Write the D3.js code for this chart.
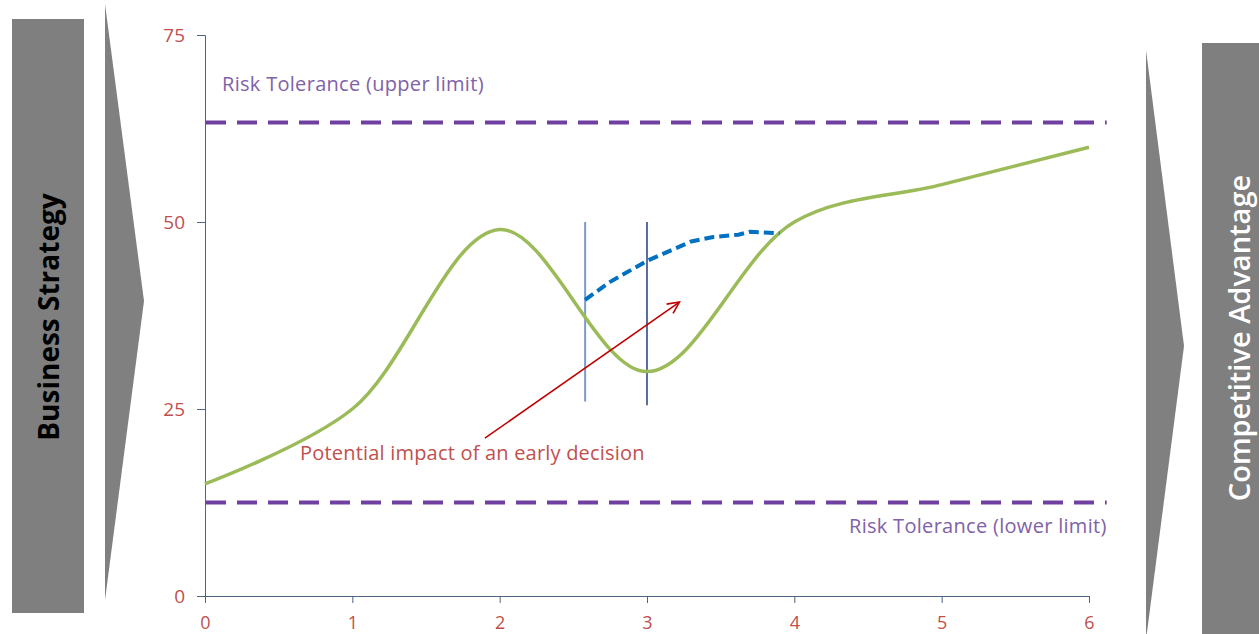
<!DOCTYPE html>
<html>
<head>
<meta charset="utf-8">
<script src="https://cdn.jsdelivr.net/npm/d3@7"></script>
<style>
  body { margin: 0; background: #fff; }
  svg { display: block; font-family: "Open Sans", sans-serif; }
</style>
</head>
<body>
<svg id="chart" width="1259" height="634"></svg>
<script>
// chart data
const pathX = [0, 1, 2, 3, 4, 5, 6];
const pathY = [15, 25, 49, 30, 50, 55, 60];

const altX = [2.58, 2.75, 3.0, 3.3, 3.45, 3.62, 3.7, 3.9];
const altY = [39.6, 42, 44.8, 47.4, 48, 48.3, 48.7, 48.5];

const upperLimit = 63.3, lowerLimit = 12.5;
const limitEndX = 6.12;

const decisionX = [2.58, 3.0];
const decisionYLow = [26, 25.5], decisionYHigh = [50, 50];

const arrowFrom = [1.9, 21.1], arrowTo = [3.22, 39.3];

const yTicks = [0, 25, 50, 75];
const xTicks = [0, 1, 2, 3, 4, 5, 6];

const svg = d3.select("#chart");

const x = d3.scaleLinear().domain([0, 6]).range([205, 1089]);
const y = d3.scaleLinear().domain([0, 75]).range([596, 35]);

// side panels
svg.append("rect").attr("x", 12).attr("y", 19).attr("width", 72).attr("height", 594).attr("fill", "#7f7f7f");
svg.append("path").attr("d", "M105,4 L144,301 L105,600 Z").attr("fill", "#808080");
svg.append("text")
  .attr("transform", "translate(59,317) rotate(-90)")
  .attr("text-anchor", "middle")
  .attr("font-weight", 700)
  .attr("font-size", 28)
  .attr("fill", "#000")
  .text("Business Strategy");

svg.append("path").attr("d", "M1146,50 L1184,346 L1146,640 Z").attr("fill", "#808080");
svg.append("rect").attr("x", 1202).attr("y", 43).attr("width", 57).attr("height", 591).attr("fill", "#7f7f7f");
svg.append("text")
  .attr("transform", "translate(1250,338) rotate(-90)")
  .attr("text-anchor", "middle")
  .attr("font-weight", 600)
  .attr("font-size", 29)
  .attr("fill", "#fff")
  .text("Competitive Advantage");

// axes
const axisColor = "#4d6382", tickColor = "#c0504d";
const yAxis = svg.append("g").attr("transform", `translate(${x(0)},0)`)
  .call(d3.axisLeft(y).tickValues(yTicks).tickSize(8).tickPadding(12));
const xAxis = svg.append("g").attr("transform", `translate(0,${y(0)})`)
  .call(d3.axisBottom(x).tickValues(xTicks).tickFormat(d3.format("d")).tickSize(7).tickPadding(13));
[yAxis, xAxis].forEach(a => {
  a.selectAll("path, line").attr("stroke", axisColor);
  a.selectAll("text").attr("fill", tickColor).attr("font-size", 19)
    .attr("font-family", "'Open Sans', sans-serif");
});
xAxis.selectAll("text").attr("font-size", 18);

// risk tolerance limits
const limitColor = "#7040a0";
[upperLimit, lowerLimit].forEach(v => {
  svg.append("line")
    .attr("x1", x(0) + 1).attr("x2", x(limitEndX))
    .attr("y1", y(v)).attr("y2", y(v))
    .attr("stroke", limitColor).attr("stroke-width", 4)
    .attr("stroke-dasharray", "20 11");
});
svg.append("text").attr("x", 222).attr("y", y(upperLimit) - 32)
  .attr("font-size", 20).attr("letter-spacing", 0.3)
  .attr("fill", "#7f62a8").text("Risk Tolerance (upper limit)");
svg.append("text").attr("x", x(limitEndX)).attr("y", y(lowerLimit) + 30)
  .attr("text-anchor", "end")
  .attr("font-size", 20).attr("letter-spacing", 0.3)
  .attr("fill", "#7f62a8").text("Risk Tolerance (lower limit)");

// decision markers
const markerColors = ["#7b9bcc", "#5a7098"];
decisionX.forEach((d, i) => {
  svg.append("line")
    .attr("x1", x(d)).attr("x2", x(d))
    .attr("y1", y(decisionYHigh[i])).attr("y2", y(decisionYLow[i]))
    .attr("stroke", markerColors[i]).attr("stroke-width", 2);
});

// main path
const mainLine = d3.line()
  .x(d => x(d[0]))
  .y(d => y(d[1]))
  .curve(d3.curveCatmullRom.alpha(0.5));
svg.append("path")
  .datum(pathX.map((v, i) => [v, pathY[i]]))
  .attr("fill", "none")
  .attr("stroke", "#9bbb59")
  .attr("stroke-width", 3.5)
  .attr("d", mainLine);

// alternative path after early decision
svg.append("path")
  .datum(altX.map((v, i) => [v, altY[i]]))
  .attr("fill", "none")
  .attr("stroke", "#0070c0")
  .attr("stroke-width", 4)
  .attr("stroke-dasharray", "10 5")
  .attr("d", d3.line().x(d => x(d[0])).y(d => y(d[1])));

// annotation arrow
const ax1 = x(arrowFrom[0]), ay1 = y(arrowFrom[1]), ax2 = x(arrowTo[0]), ay2 = y(arrowTo[1]);
const ang = Math.atan2(ay2 - ay1, ax2 - ax1), head = 13;
svg.append("line")
  .attr("x1", ax1).attr("y1", ay1).attr("x2", ax2).attr("y2", ay2)
  .attr("stroke", "#c00000").attr("stroke-width", 1.6);
svg.append("path")
  .attr("d", `M${ax2 - head * Math.cos(ang - 0.45)},${ay2 - head * Math.sin(ang - 0.45)} L${ax2},${ay2} L${ax2 - head * Math.cos(ang + 0.45)},${ay2 - head * Math.sin(ang + 0.45)}`)
  .attr("fill", "none").attr("stroke", "#c00000").attr("stroke-width", 1.6);

svg.append("text").attr("x", 300).attr("y", 460)
  .attr("font-size", 20).attr("letter-spacing", 0.2)
  .attr("fill", "#c0504d")
  .text("Potential impact of an early decision");
</script>
</body>
</html>
